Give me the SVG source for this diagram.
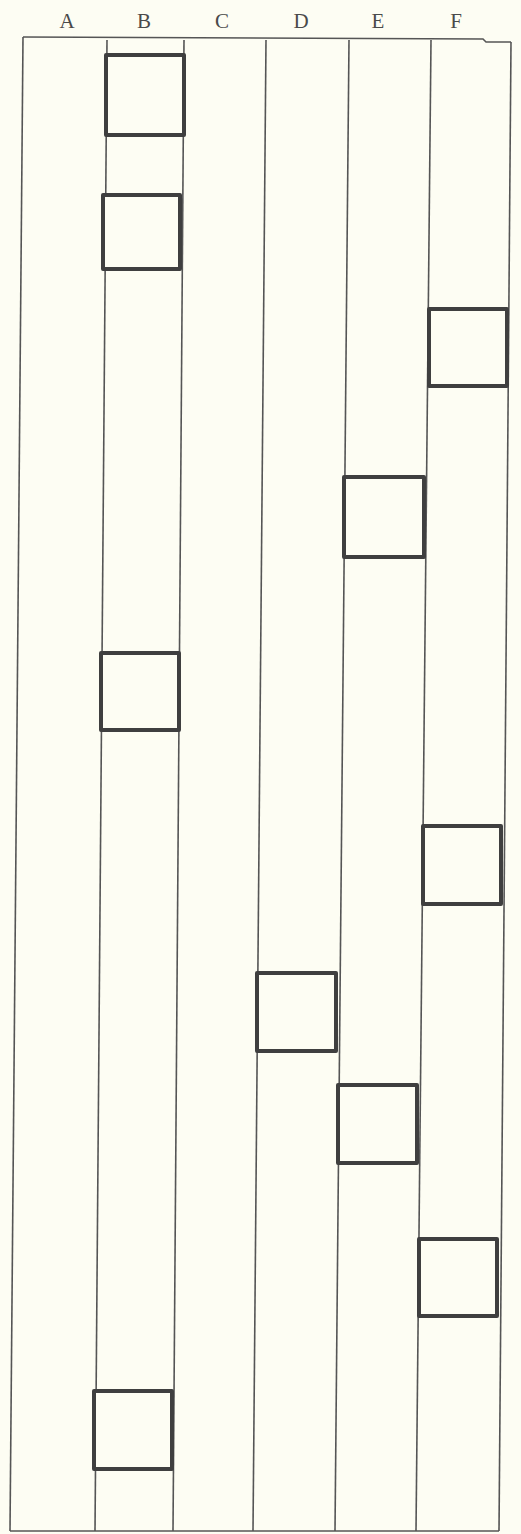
<svg xmlns="http://www.w3.org/2000/svg" width="521" height="1534" viewBox="0 0 521 1534">
<style>
.bg{fill:#fdfdf3}
.lbl{font-family:"Liberation Serif","DejaVu Serif",serif;font-size:21px;fill:#4a4a4a;text-anchor:middle}
.ln{stroke:#555;stroke-width:1.6;fill:none}
.box{fill:#fdfdf3;stroke:#3f3f3f;stroke-width:4;stroke-linejoin:round}
</style>
<rect class="bg" x="0" y="0" width="521" height="1534"/>
<g id="labels">
<text class="lbl" x="67" y="28">A</text>
<text class="lbl" x="144" y="28">B</text>
<text class="lbl" x="222" y="28">C</text>
<text class="lbl" x="301" y="28">D</text>
<text class="lbl" x="378" y="28">E</text>
<text class="lbl" x="456" y="28">F</text>
</g>
<g id="grid">
<path class="ln" d="M23,37 L483,39 L486,42 L511,42"/>
<path class="ln" d="M23,37 L10,1531"/>
<path class="ln" d="M107,40 L95,1531"/>
<path class="ln" d="M184,40 L173,1531"/>
<path class="ln" d="M266,40 L253,1531"/>
<path class="ln" d="M349,40 L335,1531"/>
<path class="ln" d="M431,40 L416,1531"/>
<path class="ln" d="M511,42 L499,1531"/>
<path class="ln" d="M10,1531 L499,1531"/>
</g>
<g id="node-B1"><rect class="box" x="106" y="55" width="78" height="80"/></g>
<g id="node-B2"><rect class="box" x="103" y="195" width="77" height="74"/></g>
<g id="node-F1"><rect class="box" x="429" y="309" width="78" height="77"/></g>
<g id="node-E1"><rect class="box" x="344" y="477" width="80" height="80"/></g>
<g id="node-B3"><rect class="box" x="101" y="653" width="78" height="77"/></g>
<g id="node-F2"><rect class="box" x="423" y="826" width="78" height="78"/></g>
<g id="node-D1"><rect class="box" x="257" y="973" width="79" height="78"/></g>
<g id="node-E2"><rect class="box" x="338" y="1085" width="79" height="78"/></g>
<g id="node-F3"><rect class="box" x="419" y="1239" width="78" height="77"/></g>
<g id="node-B4"><rect class="box" x="94" y="1391" width="78" height="78"/></g>
</svg>
